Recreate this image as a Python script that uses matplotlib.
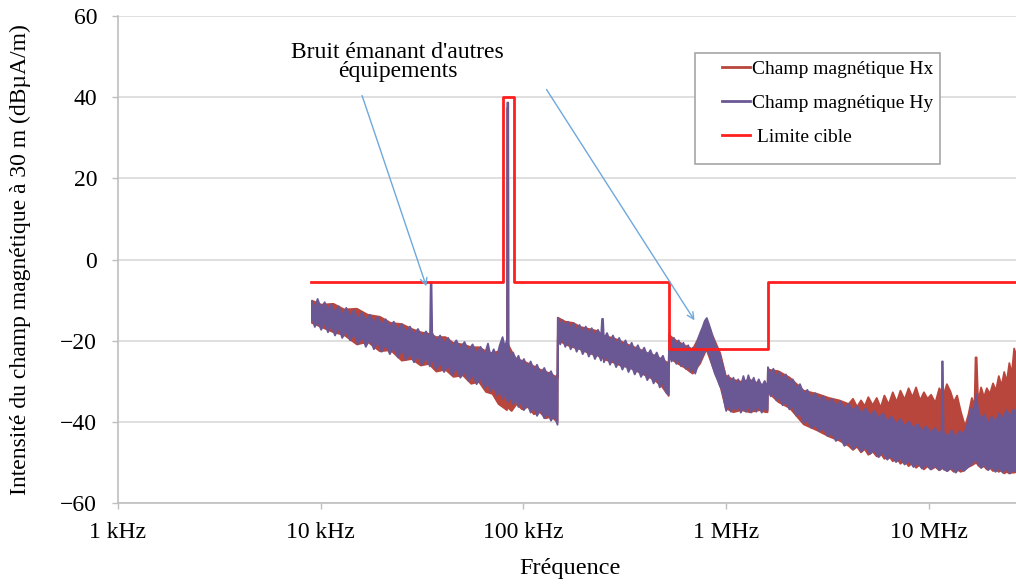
import matplotlib.pyplot as plt
import numpy as np
from matplotlib.lines import Line2D
from matplotlib.patches import Rectangle

plt.rcParams["font.family"] = ["Liberation Serif", "DejaVu Serif"]

HX_COLOR = "#b8463c"
HY_COLOR = "#6a5895"
LIMIT_COLOR = "#ff1f1f"
ARROW_COLOR = "#6fa8dc"
GRID_COLOR = "#d9d9d9"

# Hy spectrum, noisy band (frequency in kHz, dBuA/m)
hy_freq_khz = [
    9.0, 9.3, 9.6, 10.0, 10.4, 10.8, 11.2, 11.7, 12.2, 12.7, 13.3, 13.9,
    14.5, 15.2, 15.9, 16.6, 17.4, 18.2, 19.0, 19.9, 20.8, 21.8, 22.8, 23.9,
    25.0, 26.2, 27.4, 28.7, 30.0, 31.4, 32.9, 34.4, 34.7, 35.0, 35.3, 36.9,
    38.6, 40.4, 42.3, 44.3, 46.4, 48.6, 50.9, 53.3, 55.8, 58.4, 61.1, 64.0,
    66.5, 68.5, 71.0, 73.5, 76.0, 78.5, 80.5, 82.6, 82.8, 83.7, 83.9, 86.0,
    88.5, 91.0, 94.0, 97.0, 100, 104, 108, 112, 116, 121, 126, 131, 136, 141,
    146.5,
    147.0, 151, 155, 160, 165, 170, 176, 182, 188, 195, 202, 209, 216, 224,
    232, 240, 243, 245.5, 248, 257, 266, 275, 285, 295, 306, 317, 328, 340,
    352, 365, 378, 392, 406, 421, 436, 452, 468, 485, 502, 518,
    521, 535, 550, 565, 580, 596, 612, 629, 646, 664, 682, 700, 720, 740, 760,
    780, 798, 815, 835, 855, 875, 900, 925, 950, 975, 995, 1020, 1050, 1080,
    1110, 1140, 1175, 1210, 1245, 1280, 1320, 1360, 1400, 1440, 1490, 1540,
    1592,
    1598, 1650, 1700, 1760, 1820, 1890, 1960, 2040, 2120, 2210, 2300, 2400,
    2500, 2620, 2740, 2870, 3000, 3150, 3300, 3460, 3630, 3810, 4000, 4200,
    4400, 4620, 4850, 5100, 5350, 5620, 5900, 6200, 6500, 6850, 7200, 7550,
    7950, 8350, 8750, 9200, 9650, 10150, 10650, 11200, 11500, 11550, 11650,
    11750, 12300, 12900, 13500, 14100, 14800, 15500, 16100, 16600, 17000,
    17400, 18000, 18700, 19500, 20300, 21200, 22100, 23000, 24000, 25000,
    26000, 27000,
]
hy_high = [
    -10.2, -11.8, -9.6, -12.0, -10.4, -12.4, -10.9, -13.0, -11.4, -13.5, -11.8, -14.0,
    -12.4, -14.6, -12.9, -15.0, -13.5, -15.6, -14.0, -16.0, -14.6, -16.6, -15.2, -17.2,
    -15.8, -17.8, -16.4, -18.4, -17.0, -19.0, -17.6, -19.4, -5.5, -5.5, -18.0, -20.0,
    -18.6, -20.6, -19.2, -21.2, -19.8, -21.8, -20.2, -22.4, -20.8, -23.0, -21.4, -23.4,
    -20.6, -23.8, -22.0, -24.0, -21.0, -19.0, -21.5, -19.5, 38.8, 38.8, -20.5, -24.5,
    -22.8, -25.0, -23.6, -25.8, -24.4, -26.6, -25.0, -27.2, -25.8, -28.0, -26.6, -28.6, -27.4, -29.4,
    -28.2,
    -14.3, -16.0, -14.8, -16.6, -15.2, -17.0, -15.6, -17.4, -16.0, -17.8, -16.4, -18.4, -16.8, -18.8,
    -17.2, -19.0, -14.5, -14.5, -19.4, -18.0, -20.0, -18.6, -20.6, -19.2, -21.2, -19.8, -21.8, -20.4,
    -22.4, -21.0, -23.0, -21.6, -23.6, -22.2, -24.2, -22.8, -24.8, -23.6, -25.8, -25.0,
    -18.2, -20.6, -19.2, -21.2, -19.8, -21.8, -20.4, -22.4, -21.0, -22.8, -21.6, -22.6, -19.6, -18.0, -16.6,
    -15.0, -14.3, -15.6, -17.2, -19.0, -20.4, -22.4, -23.2, -25.5, -27.5, -29.6, -28.4, -30.8, -29.0,
    -31.2, -29.4, -31.0, -28.6, -30.8, -28.4, -30.6, -29.0, -31.0, -29.4, -31.2, -29.8,
    -31.4,
    -26.4, -28.2, -26.8, -28.8, -27.6, -29.4, -28.2, -30.2, -29.4, -31.6, -30.6, -33.0,
    -32.0, -34.0, -32.8, -34.6, -33.6, -35.4, -34.2, -36.0, -34.8, -36.6, -35.4, -37.2,
    -36.0, -37.8, -36.6, -38.4, -37.2, -39.0, -37.8, -39.8, -38.6, -40.4, -39.2, -41.0,
    -39.8, -41.6, -40.4, -42.2, -41.0, -42.6, -41.4, -43.0, -42.0, -25.0, -25.0,
    -42.4, -43.6, -42.0, -43.8, -42.2, -43.0, -40.0, -36.5, -38.0, -33.0,
    -37.0, -39.6, -38.0, -40.4, -38.6, -40.0, -37.8, -39.2, -37.0, -38.6,
    -36.8, -37.6,
]
hy_low = [
    -14.0, -16.5, -15.0, -17.2, -15.4, -17.8, -16.0, -18.6, -16.6, -19.2, -17.4, -19.8,
    -18.0, -20.8, -18.8, -21.4, -19.4, -22.0, -20.0, -22.6, -20.6, -23.2, -21.4, -24.0,
    -22.0, -24.6, -22.8, -25.2, -23.4, -25.8, -24.0, -26.2, -25.0, -25.0, -24.4, -27.0,
    -25.2, -27.6, -25.8, -28.4, -26.6, -29.0, -27.4, -29.8, -28.2, -30.6, -29.0, -31.6,
    -30.0, -32.4, -30.8, -33.4, -32.0, -34.2, -33.0, -34.6, -33.0, -33.0, -35.0, -33.6,
    -35.6, -34.0, -36.2, -34.6, -37.0, -35.4, -37.6, -36.0, -38.4, -36.8, -39.0, -37.4, -39.6, -38.2,
    -40.6,
    -18.8, -20.8, -19.2, -21.4, -19.8, -22.0, -20.4, -22.6, -21.0, -23.2, -21.6, -23.8, -22.2, -24.4,
    -22.8, -24.8, -23.0, -23.0, -25.2, -23.6, -25.8, -24.2, -26.4, -24.8, -27.0, -25.4, -27.6, -26.0,
    -28.2, -26.6, -28.8, -27.4, -29.6, -28.2, -30.4, -29.0, -31.4, -30.0, -32.6, -33.2,
    -23.0, -25.0, -23.8, -25.6, -24.4, -26.2, -25.0, -26.8, -25.6, -27.6, -26.4, -28.0, -26.0, -25.0, -23.6,
    -22.4, -21.6, -22.6, -24.6, -26.4, -28.0, -29.4, -31.0, -32.0, -35.0, -37.2, -35.6, -37.4, -35.8,
    -37.0, -35.6, -37.6, -36.0, -37.4, -35.8, -37.6, -36.0, -37.4, -35.8, -37.6, -36.4,
    -37.0,
    -31.8, -33.6, -32.6, -34.6, -33.6, -35.8, -34.8, -36.8, -36.0, -38.4, -37.6, -40.2,
    -39.4, -41.4, -40.6, -42.2, -41.4, -43.4, -42.6, -44.6, -43.6, -45.8, -44.8, -46.6,
    -45.4, -47.2, -46.0, -47.8, -46.8, -48.6, -47.4, -49.2, -48.2, -49.8, -48.8, -50.4,
    -49.4, -51.0, -50.0, -51.4, -50.4, -51.6, -50.6, -51.8, -51.0, -50.6, -50.6,
    -51.6, -52.0, -51.0, -52.4, -51.2, -52.0, -51.0, -50.4, -49.6, -49.0,
    -50.2, -51.2, -50.4, -51.8, -50.8, -52.2, -51.2, -52.4, -51.4, -52.6,
    -51.6, -52.4,
]

# Hx spectrum, mostly hidden under Hy except above a few MHz
hx_freq_khz = [
    9.0, 10.0, 11.5, 13.0, 15.0, 17.0, 19.5, 22.0, 25.0, 28.0, 31.0, 34.0,
    37.0, 41.0, 45.0, 50.0, 55.0, 60.0, 65.0, 70.0, 75.0, 80.0, 82.5, 82.7,
    83.5, 83.9, 87.0, 92.0, 98.0, 105, 112, 120, 128, 137, 146.5,
    147.0, 160, 175, 190, 210, 230, 250, 275, 300, 330, 365, 400, 440, 480, 518,
    521, 560, 620, 680, 740, 795, 850, 930, 990, 1080, 1180, 1300, 1450, 1560, 1592,
    1598, 1800, 2050, 2400, 2800, 3200, 3600, 4000, 4200, 4400, 4600, 4800,
    5000, 5250, 5500, 5750, 6000, 6300, 6600, 6900, 7200, 7550, 7900, 8250,
    8600, 9000, 9400, 9800, 10200, 10700, 11200, 11700, 12200, 12700, 13200,
    13700, 14300, 15000, 15600, 16200, 16700, 16900, 17100, 17400, 18000,
    18600, 19200, 19900, 20600, 21300, 22000, 22700, 23400, 24100, 24800,
    25500, 26200, 27000,
]
hx_high = [
    -10.0, -11.0, -10.8, -12.2, -12.0, -13.5, -14.0, -15.5, -15.8, -17.0, -17.8, -18.2,
    -19.0, -19.0, -20.5, -20.8, -21.5, -21.5, -22.5, -23.0, -22.5, -21.5, -21.0, 37.5,
    37.5, -21.0, -22.5, -24.5, -24.8, -25.5, -26.2, -27.0, -27.5, -28.2, -29.0,
    -14.2, -15.2, -15.5, -16.5, -17.0, -17.5, -18.8, -19.2, -20.0, -21.0, -21.8, -22.8, -23.5, -24.5, -25.5,
    -18.5, -19.8, -21.0, -22.0, -18.5, -15.0, -18.5, -23.0, -28.5, -29.5, -30.0, -29.5, -30.5, -31.0, -31.0,
    -27.0, -27.4, -29.0, -32.2, -33.0, -34.0, -34.6, -35.5, -34.2, -36.2, -34.6, -36.0,
    -33.8, -35.8, -34.0, -36.4, -33.4, -35.6, -32.6, -35.0, -32.2, -34.4, -31.6, -33.8,
    -31.4, -34.6, -32.6, -34.2, -33.2, -35.2, -31.6, -33.6, -30.6, -32.4, -35.0,
    -33.4, -37.4, -41.0, -38.0, -34.0, -36.0, -24.0, -24.0, -35.0, -31.4,
    -33.8, -31.6, -33.0, -30.4, -32.2, -28.6, -31.0, -27.6, -30.0, -25.4,
    -28.0, -21.8, -24.0,
]
hx_low = [
    -15.5, -16.5, -17.8, -18.5, -20.8, -20.2, -22.5, -22.2, -24.8, -24.4, -26.0, -25.6,
    -27.5, -27.0, -28.8, -28.4, -30.5, -30.0, -32.5, -33.0, -35.5, -36.5, -37.0, -36.0,
    -36.0, -36.5, -37.2, -35.5, -36.8, -36.2, -38.0, -37.5, -39.0, -38.6, -40.0,
    -19.6, -20.8, -21.5, -22.0, -23.0, -23.5, -24.5, -25.2, -26.0, -26.5, -27.5, -28.5, -29.5, -31.2, -33.5,
    -24.0, -25.2, -26.5, -28.0, -25.5, -22.0, -26.0, -31.0, -36.5, -37.5, -37.0, -37.5, -37.0, -37.5, -37.5,
    -32.5, -35.0, -36.5, -40.5, -42.0, -43.5, -44.5, -45.8, -46.8, -46.0, -47.4, -46.6,
    -48.0, -47.2, -48.4, -47.6, -49.0, -48.2, -49.6, -48.8, -50.2, -49.4, -50.8, -50.0,
    -51.2, -50.4, -51.6, -50.8, -51.6, -51.0, -51.8, -51.2, -52.0, -51.4, -52.2,
    -51.6, -52.2, -51.6, -51.0, -50.6, -50.2, -50.0, -50.0, -50.6, -51.2,
    -50.8, -51.6, -51.2, -52.0, -51.6, -52.2, -51.8, -52.6, -52.2, -52.6,
    -52.4, -52.4, -52.2,
]

# target limit, each level holds from its frequency to the next one
limit_freq_khz = [9, 79, 90, 520, 1600, 30000]
limit_level = [-5.5, 40, -5.5, -22, -5.5, -5.5]

x_ticks = [1e3, 1e4, 1e5, 1e6, 1e7]
x_tick_labels = ["1 kHz", "10 kHz", "100 kHz", "1 MHz", "10 MHz"]
y_ticks = [-60, -40, -20, 0, 20, 40, 60]

# arrows: (text end, tip) in (kHz, dB)
arrows = [((16.0, 40.4), (33.2, -6.6)), ((130.0, 41.9), (698.0, -15.0))]


def khz(values):
    return np.asarray(values, dtype=float) * 1e3


def plot_band(ax, freq, high, low, color):
    # edge stroke roughens the band and keeps the thin spikes visible
    ax.fill_between(
        khz(freq), low, high, color=color, edgecolor=color, linewidth=1.3, zorder=3
    )


fig = plt.figure(figsize=(10.16, 5.87), dpi=100)
ax = fig.add_axes([0.1161, 0.1431, 0.8839, 0.8296])

plot_band(ax, hx_freq_khz, hx_high, hx_low, HX_COLOR)
plot_band(ax, hy_freq_khz, hy_high, hy_low, HY_COLOR)
ax.plot(
    khz(limit_freq_khz),
    limit_level,
    drawstyle="steps-post",
    color=LIMIT_COLOR,
    linewidth=2.0,
    zorder=4,
)

for (x0, y0), (x1, y1) in arrows:
    ax.annotate(
        "",
        xy=(x1 * 1e3, y1),
        xytext=(x0 * 1e3, y0),
        arrowprops=dict(
            arrowstyle="->", color=ARROW_COLOR, lw=1.0, mutation_scale=12,
            shrinkA=0, shrinkB=0,
        ),
        zorder=5,
    )
ax.text(
    23.9e3, 48.6, "Bruit émanant d'autres\néquipements",
    ha="center", va="center", fontsize=17, linespacing=0.9, zorder=6,
)

ax.set_xscale("log")
ax.set_xlim(1e3, 2.69e7)
ax.set_ylim(-60, 60)
ax.set_xticks(x_ticks)
ax.set_xticklabels(x_tick_labels)
ax.xaxis.set_minor_locator(plt.NullLocator())
ax.set_yticks(y_ticks)
ax.tick_params(axis="both", labelsize=17, color="#bfbfbf", length=4, width=1.0)
ax.tick_params(axis="x", pad=10)
ax.tick_params(axis="y", pad=11)
ax.yaxis.grid(True, color=GRID_COLOR, linewidth=1.2)
ax.set_axisbelow(True)
for side in ["top", "right"]:
    ax.spines[side].set_visible(False)
for side in ["left", "bottom"]:
    ax.spines[side].set_color("#bfbfbf")
    ax.spines[side].set_linewidth(1.2)

ax.set_xlabel("Fréquence", fontsize=17.5)
ax.xaxis.set_label_coords(0.503, -0.113)
ax.set_ylabel("Intensité du champ magnétique à 30 m (dBµA/m)", fontsize=17)
ax.yaxis.set_label_coords(-0.097, 0.5)

# legend frame drawn by hand, entries placed inside it
fig.patches.append(
    Rectangle(
        (695 / 1016, 1 - 164 / 587), 245 / 1016, 111 / 587,
        transform=fig.transFigure, facecolor="white", edgecolor="#a6a6a6",
        linewidth=1.2, zorder=10,
    )
)
handles = [
    Line2D([], [], color=HX_COLOR, linewidth=2),
    Line2D([], [], color=HY_COLOR, linewidth=2),
    Line2D([], [], color=LIMIT_COLOR, linewidth=2),
]
labels = ["Champ magnétique Hx", "Champ magnétique Hy", " Limite cible"]
leg = fig.legend(
    handles, labels, loc="upper left", bbox_to_anchor=(722 / 1016, 1 - 60 / 587),
    frameon=False, fontsize=14, borderpad=0, borderaxespad=0, handlelength=1.45,
    handletextpad=0.1, labelspacing=0.85,
)
leg.set_zorder(11)

fig.savefig("out.png", dpi=100)
